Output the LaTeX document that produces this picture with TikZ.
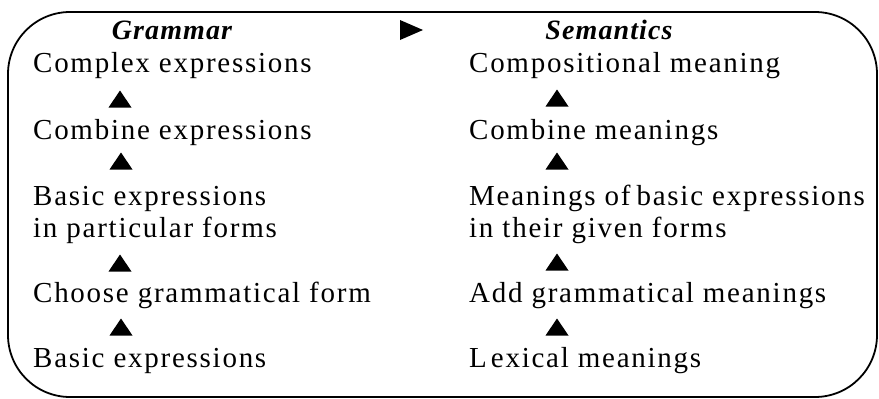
\documentclass[tikz,border=0pt]{standalone}
\usepackage{fontspec}
\setmainfont{Liberation Serif}[LetterSpace=6]
\newfontfamily\hdrfont{Liberation Serif}[LetterSpace=4]
\begin{document}
\begin{tikzpicture}[x=1pt,y=-1pt,
  txt/.style={anchor=base west,inner sep=0pt,font=\fontsize{29}{32}\selectfont},
  hdr/.style={anchor=base,inner sep=0pt,font=\hdrfont\fontsize{28}{32}\selectfont\bfseries\itshape},
  tri/.style={fill=black},
  frame/.style={draw=black,line width=1.8pt,rounded corners=62pt}]
\useasboundingbox (0,0) rectangle (879,399);
\draw[frame] (8,12) rectangle (877,397);
% headers
\node[hdr] (gh) at (172,39) {Grammar};
\node[hdr] (sh) at (609,39) {Semantics};
\coordinate (rt) at (411,30);
\fill[tri] ([shift={(-11,-10)}]rt) -- ([shift={(12,0)}]rt) -- ([shift={(-11,10)}]rt) -- cycle;
% left column
\node[txt] (g1) at (33,72) {Complex expressions};
\node[txt] (g2) at (33,139) {Combine expressions};
\node[txt] (g3) at (33,205) {Basic expressions};
\node[txt] (g3b) at (33,237) {in particular forms};
\node[txt] (g4) at (33,302) {Choose grammatical form};
\node[txt] (g5) at (33,367) {Basic expressions};
% right column
\node[txt] (s1) at (469,72) {Compositional meaning};
\node[txt] (s2) at (469,139) {Combine meanings};
\node[txt] (s3) at (469,205) {Meanings of\kern-3pt\ basic expressions};
\node[txt] (s3b) at (469,237) {in their given forms};
\node[txt] (s4) at (469,302) {Add grammatical meanings};
\node[txt] (s5) at (469,367) {L\kern4pt exical meanings};
% up triangles
\foreach \n/\x/\y in {ga/120/99,gb/121/161,gc/120/263,gd/121/327,sa/557/98,sb/557/161,sc/557/262,sd/557/327}{
  \coordinate (\n) at (\x,\y);
  \fill[tri] ([shift={(-11.5,8.5)}]\n) -- ([shift={(11.5,8.5)}]\n) -- ([shift={(0,-8.5)}]\n) -- cycle;
}
\end{tikzpicture}
\end{document}
